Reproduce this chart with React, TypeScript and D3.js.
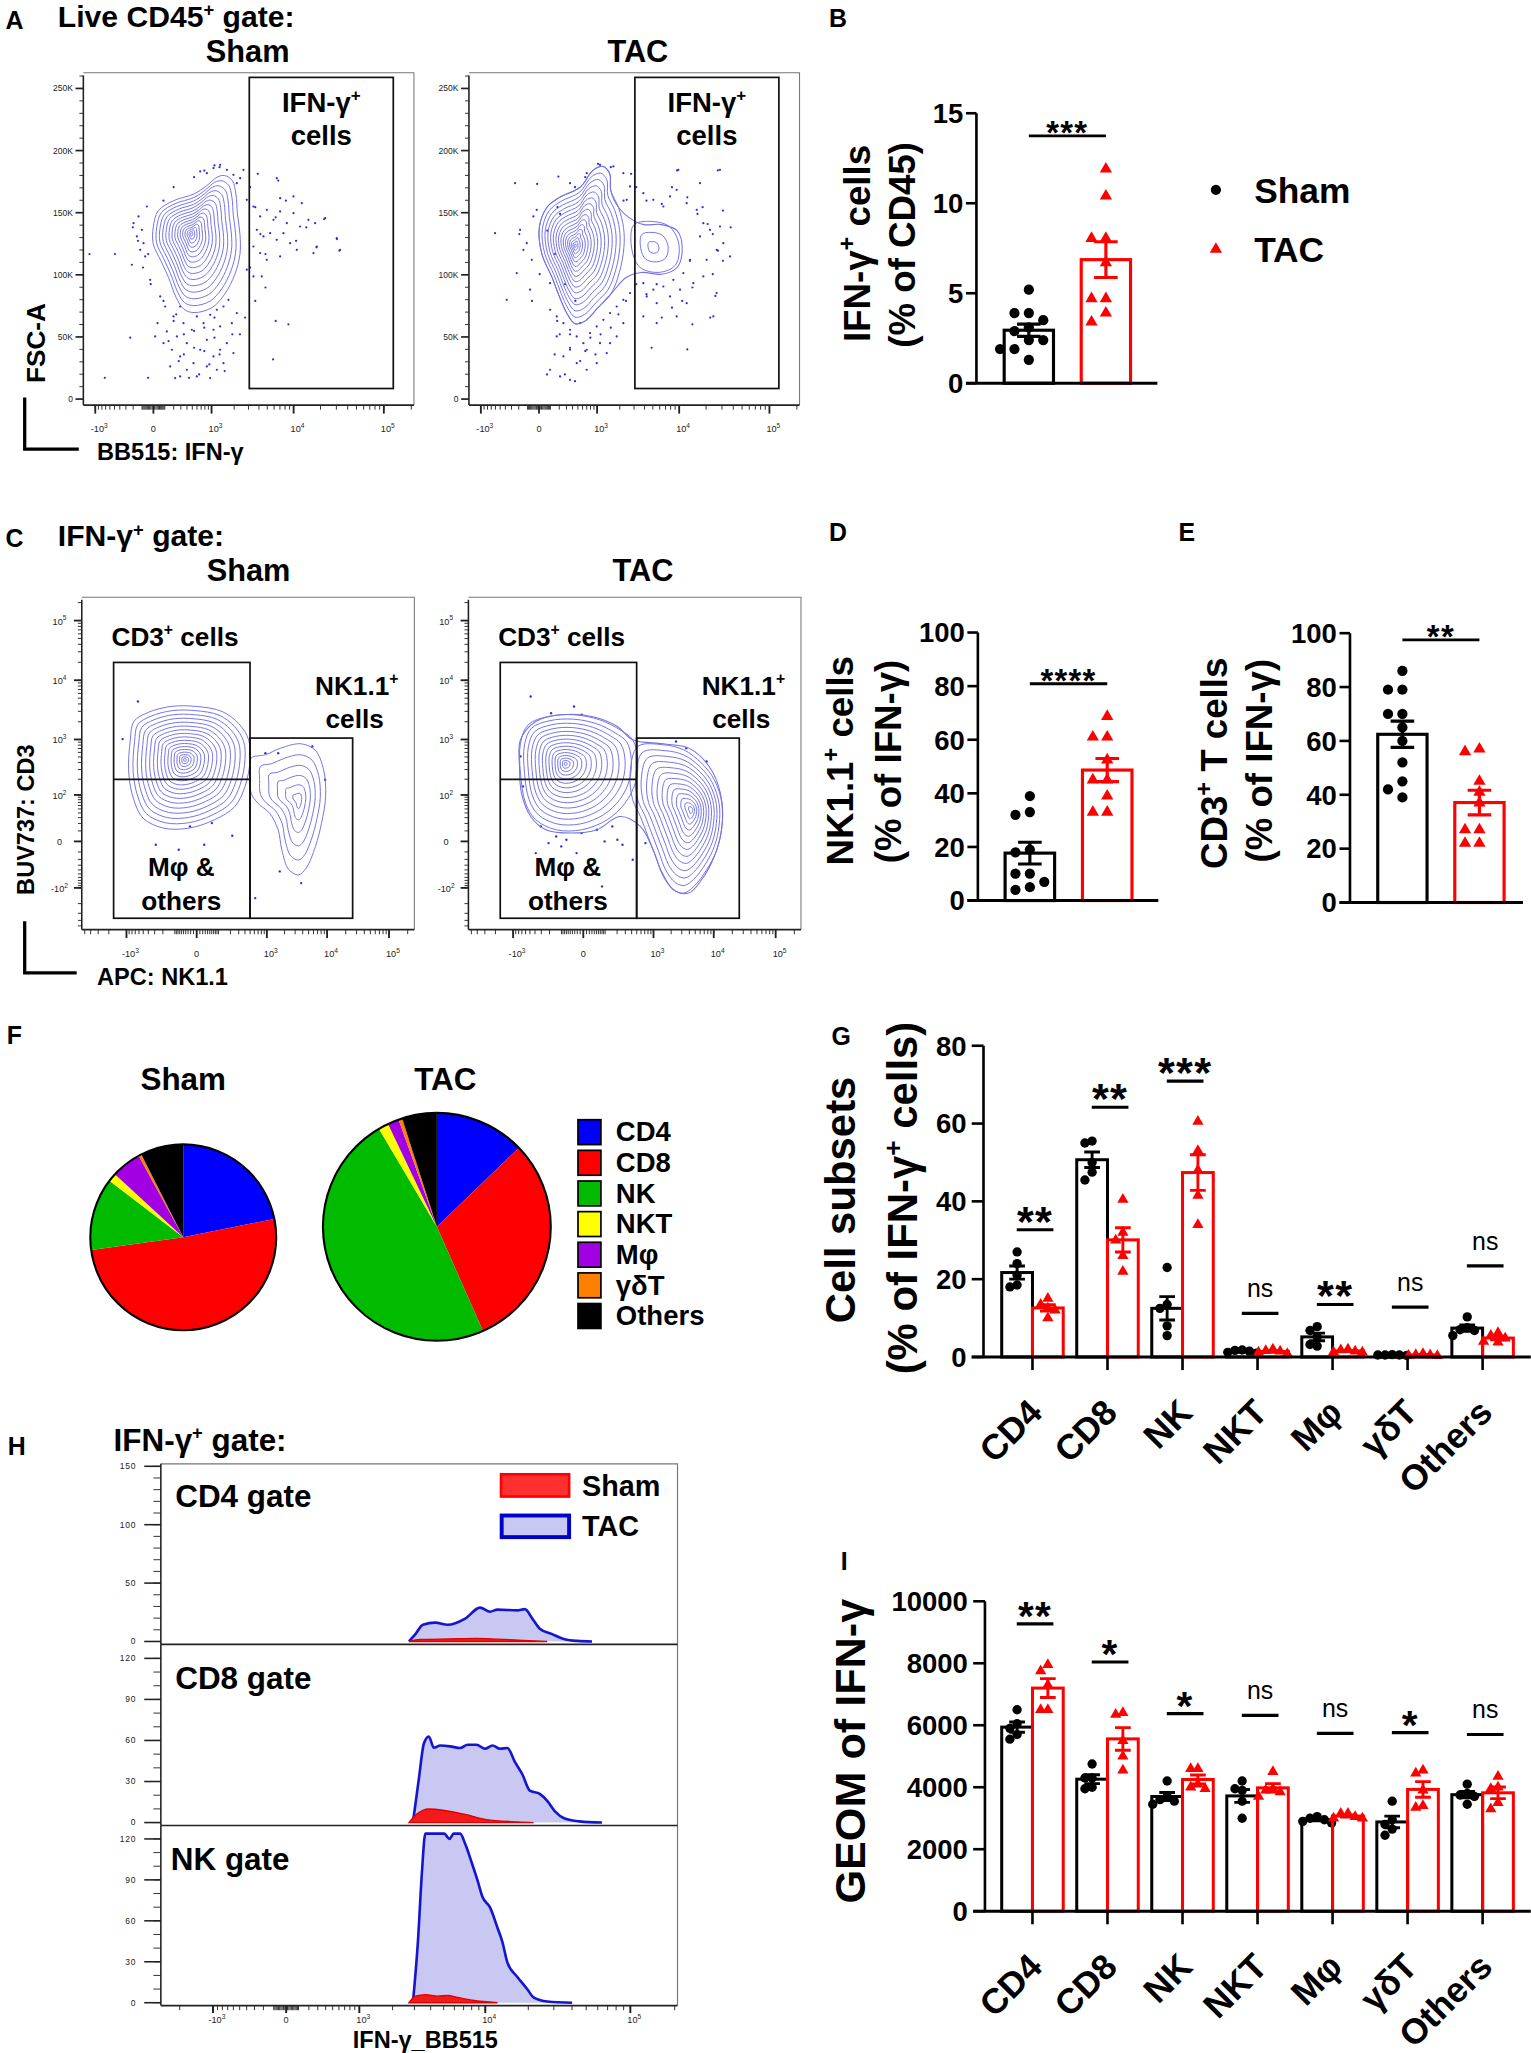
import React from "react";
import * as d3 from "d3";

type Pt = [number, number];

const FONT = "'Liberation Sans', Arial, Helvetica, sans-serif";
const RED = "#ff0000";
const CONTOUR = "#7272e6";
const DOTC = "#2c2cd8";

// ---------- A : FSC-A (thousands) vs BB515 IFN-γ (display channel 0-1024)
const aShamOuter: Pt[] = [
  [216.5, 138.2], [232.3, 151.7], [279.7, 159.7], [343, 165.1], [382.4, 171.8], [414, 178.6], [437.7, 179.9],
  [461.4, 175.9], [472.5, 165.1], [477.2, 149], [485.1, 132.8], [485.1, 116.7], [469.3, 100.5], [437.7, 84.4],
  [398.2, 73.6], [343, 69.6], [311.3, 72.3], [287.6, 81.7], [263.9, 97.8], [240.2, 111.3], [216.5, 124.8],
];
const aShamPeak: Pt = [335, 132.8];
const aTacOuter: Pt[] = [
  [218.1, 138.2], [241.8, 154.4], [281.3, 162.4], [344.5, 170.5], [384, 184], [415.6, 187.2], [436.1, 181.3],
  [439.3, 167.8], [463, 154.4], [510.4, 143.6], [542, 140.4], [597.3, 140.4], [644.7, 135.5], [660.5, 122],
  [644.7, 105.9], [597.3, 100.5], [534.1, 101.9], [486.7, 97.8], [439.3, 84.4], [399.8, 73.6], [360.3, 62.9],
  [328.7, 60.7], [305, 68.2], [281.3, 81.7], [257.6, 97.8], [226, 116.7],
];
const aTacMain: Pt[] = [
  [218.1, 138.2], [241.8, 154.4], [281.3, 162.4], [344.5, 170.5], [384, 184], [415.6, 187.2], [436.1, 181.3],
  [439.3, 167.8], [463, 154.4], [478.8, 138], [480, 122], [466, 102], [439.3, 84.4], [399.8, 73.6], [360.3, 62.9],
  [328.7, 60.7], [305, 68.2], [281.3, 81.7], [257.6, 97.8], [226, 116.7],
];
const aTacPeak: Pt = [328.7, 123.4];
const aTacLobe: Pt[] = [[510, 140], [560, 143], [620, 139], [650, 125], [640, 108], [590, 102], [530, 106], [505, 120]];
const aTacLobePeak: Pt = [570, 122];
const aGateX = [514, 960];
const aGateY = [8.5, 258.9];
const aShamDots: Pt[] = [
  [279.7, 62.9], [311.3, 52.1], [342.9, 41.3], [374.5, 57.5], [406.1, 49.4], [295.5, 30.6], [358.7, 19.8], [390.3, 27.9],
  [327.1, 17.1], [421.9, 35.9], [437.7, 22.5], [263.9, 46.7], [311.3, 35.9], [374.5, 38.6], [406.1, 65.6], [287.6, 68.2],
  [461.4, 52.1], [342.9, 54.8], [153.3, 138.2], [169.1, 127.4], [184.9, 105.9], [200.7, 116.7], [208.6, 92.5], [248.1, 79],
  [66.4, 17.1], [19, 116.7], [98, 116.7], [145.4, 49.4], [200.7, 17.1], [516.7, 170.5], [532.5, 154.4], [548.3, 132.8],
  [564.1, 116.7], [595.7, 146.3], [627.3, 159.7], [658.9, 127.4], [690.5, 138.2], [722.1, 122.1], [745.8, 144.9],
  [603.6, 175.9], [540.4, 181.3], [516.7, 105.9], [564.1, 89.8], [595.7, 62.9], [635.2, 60.2], [587.8, 31.9],
  [785.3, 128.8], [793.2, 119.4], [532.5, 79], [500.9, 65.6], [485.1, 52.1], [374.5, 183.9], [406.1, 188],
  [421.9, 186.6], [343, 178.6], [279.7, 170.5], [248.1, 159.7],
  [238, 82.6], [253.5, 74.5], [229.7, 61.1], [258.6, 54.4], [279.3, 66.5], [299.9, 74.5], [310.2, 61.1], [289.6, 50.4],
  [274.1, 39.7], [299.9, 34.3], [320.5, 45], [336, 55.8], [351.5, 66.5], [372.1, 61.1], [392.8, 67.8], [413.4, 71.9],
  [434.1, 74.5], [449.5, 79.9], [403.1, 55.8], [382.5, 47.7], [361.8, 39.7], [341.2, 28.9], [320.5, 23.6], [299.9, 18.2],
  [351.5, 18.2], [382.5, 26.3], [403.1, 34.3], [423.7, 39.7], [444.4, 45], [465, 37], [434.1, 28.9], [413.4, 23.6],
  [392.8, 16.9], [268.9, 26.3], [284.4, 16.9], [248.3, 45], [222.5, 50.4], [459.9, 61.1], [475.3, 69.2], [423.7, 58.5],
  [506.3, 160.4], [526.9, 155], [547.6, 147], [568.2, 152.3], [588.9, 144.3], [609.5, 151], [630.1, 141.6], [650.8, 149.6],
  [671.4, 138.9], [697.2, 144.3], [537.3, 136.2], [557.9, 130.9], [578.5, 133.5], [599.2, 128.2], [619.8, 133.5],
  [640.5, 125.5], [661.1, 120.1], [526.9, 122.8], [547.6, 117.5], [568.2, 112.1], [609.5, 114.8], [506.3, 104.1],
  [526.9, 98.7], [552.7, 98.7], [599.2, 177.8], [609.5, 161.7], [650.8, 163.1], [676.6, 157.7], [717.9, 141.6],
  [723, 122.8], [748.8, 145.6], [784.9, 129.5], [795.3, 120.1], [712.7, 117.5], [155.4, 141.6], [170.9, 147],
  [181.2, 136.2], [186.4, 125.5], [191.5, 114.8], [196.7, 155], [176.1, 120.1], [150.3, 108.1], [207, 96], [165.7, 130.9],
  [361.8, 183.2], [382.5, 181.8], [403.1, 185.9], [423.7, 188.5], [444.4, 184.5], [465, 180.5], [485.7, 177.8],
  [496, 184.5], [475.3, 173.8],
];
const aTacDots: Pt[] = [
  [281.3, 52.1], [312.9, 41.3], [344.5, 30.6], [376.1, 49.4], [265.5, 35.9], [297.1, 19.8], [241.8, 19.8], [328.7, 14.4],
  [360.3, 38.6], [407.7, 52.1], [439.3, 57.5], [463, 68.2], [273.4, 62.9], [391.9, 35.9], [312.9, 52.1], [155.9, 132.8],
  [195.4, 79], [219.1, 100.5], [242.8, 135.5], [266.5, 116.7], [282.3, 149], [298.1, 92.5], [329.7, 79], [211.2, 173.2],
  [274.4, 154.4], [518.3, 170.5], [549.9, 159.7], [597.3, 157.1], [628.9, 170.5], [676.3, 162.4], [707.9, 149],
  [739.5, 140.9], [755.3, 132.8], [771.1, 119.4], [786.9, 111.3], [810.6, 138.2], [723.7, 154.4], [692.1, 89.8],
  [660.5, 79], [628.9, 73.6], [597.3, 65.6], [565.7, 41.3], [676.3, 40], [747.4, 65.6], [763.2, 83], [692.1, 60.2],
  [549.9, 84.4], [518.3, 92.5], [486.7, 79], [771.1, 184], [644.7, 184], [786.9, 151.7], [755.3, 100.5], [684.2, 111.3],
  [581.5, 92.5], [360.3, 178.6], [399.8, 189.3], [439.3, 186.6], [328.7, 170.5], [502.5, 181.3], [478.8, 159.7],
  [251.3, 71.9], [271.9, 66.5], [292.6, 61.1], [313.2, 55.8], [333.8, 50.4], [354.5, 45], [375.1, 53.1], [395.8, 58.5],
  [416.4, 63.8], [437, 69.2], [457.7, 74.5], [478.3, 79.9], [499, 85.3], [313.2, 39.7], [292.6, 34.3], [333.8, 28.9],
  [271.9, 50.4], [251.3, 23.6], [282.2, 18.2], [313.2, 15.5], [364.8, 23.6], [395.8, 28.9], [426.7, 37], [457.7, 50.4],
  [478.3, 61.1], [437, 45], [406.1, 45], [344.2, 61.1], [364.8, 39.7], [251.3, 93.3], [540.2, 165.7], [571.2, 160.4],
  [602.2, 155], [622.8, 163.1], [643.4, 168.4], [674.4, 157.7], [705.4, 152.3], [726, 141.6], [746.6, 136.2],
  [777.6, 138.9], [787.9, 125.5], [808.6, 114.8], [767.3, 120.1], [736.3, 112.1], [715.7, 130.9], [684.7, 112.1],
  [664.1, 101.4], [633.1, 96], [602.2, 90.6], [571.2, 88], [540.2, 93.3], [550.6, 82.6], [581.5, 77.2], [622.8, 82.6],
  [653.8, 88], [695, 93.3], [726, 98.7], [674.4, 77.2], [643.4, 66.5], [581.5, 61.1], [540.2, 66.5], [767.3, 85.3],
  [757, 66.5], [715.7, 173.8], [777.6, 184.5], [648.6, 184.5], [142.9, 173.8], [81, 133.5], [158.4, 136.2], [179, 125.5],
  [194.5, 112.1], [148.1, 101.4], [117.1, 79.9], [189.4, 88], [210, 152.3], [199.7, 147], [168.7, 120.1], [277.1, 179.1],
  [313.2, 173.8], [364.8, 181.8], [406.1, 188.5], [447.4, 187.2], [478.3, 181.8], [499, 171.1], [488.6, 160.4],
];

// ---------- C : CD3 vs NK1.1 (both display channel 0-1024)
const cShamMain: Pt[] = [
  [149.4, 584.7], [160.3, 641.1], [204.3, 668.9], [275, 687.4], [353.5, 687.4], [432, 671.9], [483.8, 634],
  [513.7, 584.7], [518.4, 523.1], [502.7, 441], [471.3, 379.4], [408.5, 338.3], [330, 312.7], [251.4, 312.7],
  [188.6, 343.5], [160.3, 399.9], [144.6, 482],
];
const cShamMainPeak: Pt = [317.4, 523.1];
const cShamNk: Pt[] = [
  [521.5, 528.2], [565.5, 538.5], [612.6, 559], [675.4, 572.4], [719.4, 551.8], [744.5, 492.3], [750.8, 410.2],
  [738.2, 328.1], [719.4, 256.2], [691.1, 189.5], [667.6, 169], [637.7, 184.4], [615.8, 245.9], [604.8, 307.5],
  [578.1, 358.9], [541.9, 389.7], [521.5, 420.4], [518.4, 476.9],
];
const cShamNkPeak: Pt = [667.6, 399.9];
const cShamDots: Pt[] = [
  [172.9, 702.7], [125.8, 586.8], [227.9, 261.3], [298.5, 245.9], [377, 261.3], [463.4, 289.1], [609.5, 179.2],
  [675.4, 143.3], [534.1, 97.1], [565.5, 543.6], [604.8, 543.6], [710, 564.2], [749.3, 461.5], [333.1, 317.8], [400.6, 328.1],
];
const cTacMain: Pt[] = [
  [160.3, 574.4], [183.9, 630.9], [246.7, 656.6], [325.2, 661.7], [403.7, 646.3], [466.5, 615.5], [505.8, 584.7],
  [521.5, 523.1], [513.6, 451.3], [482.2, 389.7], [427.3, 338.3], [348.7, 307.5], [270.2, 307.5], [207.4, 338.3],
  [176, 389.7], [160.3, 482],
];
const cTacMainPeak: Pt = [298.5, 510.8];
const cTacNk: Pt[] = [
  [521.5, 564.2], [600, 569.3], [662.8, 553.9], [717.8, 512.8], [757.1, 461.5], [780.6, 389.7], [780.6, 317.8],
  [764.9, 246], [733.5, 184.4], [694.2, 133], [662.8, 112.5], [631.4, 122.8], [600, 163.8], [576.5, 225.4],
  [552.9, 287], [529.4, 348.6], [505.8, 400], [497.9, 482],
];
const cTacNkPeak: Pt = [686.3, 369.1];
const cTacEnvelope: Pt[] = [
  [160.3, 584.7], [207.4, 641.1], [285.9, 661.7], [380.1, 656.6], [458.7, 625.7], [505.8, 584.7], [600, 572.4],
  [678.5, 559], [741.3, 502.6], [775.9, 420.4], [780.6, 317.8], [757.1, 225.4], [717.8, 153.5], [678.5, 112.5],
  [631.4, 122.8], [592.1, 184.4], [568.6, 245.9], [529.4, 317.8], [466.5, 348.6], [395.8, 307.5], [317.2, 297.3],
  [238.7, 307.5], [191.6, 348.6], [163.4, 420.4], [157.2, 502.6],
];
const cTacDots: Pt[] = [
  [191.7, 718.1], [254.5, 666.8], [325.2, 687.3], [348.7, 661.7], [223.1, 317.8], [270.2, 287], [301.6, 276.8],
  [348.7, 297.3], [395.8, 307.5], [443, 317.8], [458.7, 276.8], [285.9, 256.2], [333, 235.7], [246.7, 266.5],
  [419.4, 271.6], [474.4, 261.3], [505.8, 215.2], [411.6, 133], [207.4, 235.7], [639.3, 579.6], [670.7, 559],
  [733.5, 518], [545.1, 266.5], [160.3, 533.4], [168.2, 441],
];
const cCd3GateX = [98, 518];
const cGateY = [35, 823];
const cCd3Split = 463;
const cNkGateX = [518, 834];
const cNkGateTop = 590;

// ---------- B, D, E : % values per mouse
const bSham = [5.2, 3.9, 3.9, 3.5, 3.1, 2.9, 2.4, 2.4, 1.9, 1.9, 1.3];
const bTac = [11.9, 10.4, 8.05, 8.05, 6.7, 4.7, 4.7, 3.9, 3.4];
const dSham = [39, 33, 32, 19, 18, 10, 10, 7, 5, 4];
const dTac = [68.7, 61, 61, 52.5, 45, 45, 39, 33, 33];
const eSham = [86, 79, 79, 70, 70, 65, 60, 52, 45, 42, 39];
const eTac = [57, 56, 45, 41, 37, 27, 27, 22, 22];

// ---------- F, G, I : cell subsets
const subsets = ["CD4", "CD8", "NK", "NKT", "Mφ", "γδT", "Others"];
const subsetColors = ["#0000ff", "#ff0000", "#00bb00", "#ffff00", "#a200e2", "#ff8000", "#000000"];
const gSham = [
  [27, 24, 21, 18.5, 18], [55.5, 55, 50, 47.5, 45.5], [23, 13.5, 12.5, 8, 5.5], [1.8, 1.5, 1.2, 1.0, 1.7],
  [7.8, 6.8, 5.2, 3.2, 2.8], [0.6, 0.5, 0.5, 0.4, 0.5], [10.3, 7.5, 7, 6.8, 5.5],
];
const gTac = [
  [15, 13.5, 12.5, 12, 10], [40.5, 32, 30, 26, 22], [60.5, 53, 48, 41.5, 34], [1.6, 2.0, 1.2, 0.8, 1.5],
  [2.0, 1.8, 1.5, 1.3, 1.2], [0.8, 0.5, 0.4, 0.3, 0.6], [6.2, 5.5, 4.8, 4.0, 3.8],
];
const gSigAt = [32.7, 64.2, 70.9, 11.2, 13.5, 12.8, 23.4];
const gSigText = ["**", "**", "***", "ns", "**", "ns", "ns"];
const iSham = [
  [6500, 6050, 5900, 5700, 5550], [4750, 4300, 4300, 4000, 3950], [4200, 3700, 3600, 3550, 3450],
  [4200, 3950, 3900, 3550, 3000], [3050, 3000, 2950, 2900, 2850], [3550, 2950, 2800, 2650, 2450],
  [4100, 3800, 3750, 3700, 3450],
];
const iTac = [
  [7750, 7950, 7300, 6500, 6500], [6400, 6350, 5500, 5000, 4550], [4600, 4600, 4100, 4000, 3950],
  [4500, 3950, 3900, 3850, 3700], [3150, 3150, 3050, 3000, 3000], [4550, 4450, 3900, 3400, 3350],
  [4350, 4000, 3950, 3500, 3300],
];
const iSigAt = [9270, 8040, 6375, 6320, 5740, 5760, 5700];
const iSigText = ["**", "*", "*", "ns", "ns", "*", "ns"];

// ---------- H : histograms [IFN-γ intensity, count]
const cd4Tac: Pt[] = [
  [2717, 0], [3055, 6.3], [3489, 14.3], [4337, 16.1], [5360, 14.3], [7181, 19.6], [9180, 29], [10810, 25.5],
  [12197, 27.3], [16800, 26.6], [18920, 27.7], [21340, 19.6], [24020, 10.9], [29240, 6.3], [35620, 2], [43350, 0.5], [54800, 0],
];
const cd4Sham: Pt[] = [[2717, 0], [3300, 1.8], [5360, 2.2], [8700, 2.6], [12197, 2.0], [18500, 1.0], [27000, 0]];
const cd8Tac: Pt[] = [
  [2920, 0], [3252, 32.3], [3553, 57.8], [3875, 62.9], [4227, 54.7], [4723, 56.3], [5592, 55.7], [6609, 54.5],
  [7487, 56.9], [8664, 56.9], [9963, 53.9], [11250, 56.3], [12700, 53.9], [14320, 54.5], [16140, 44.3], [18190, 35.3],
  [20490, 23.4], [24020, 21], [27030, 15.9], [30440, 8.4], [35620, 3], [45030, 0.9], [64060, 0],
];
const cd8Sham: Pt[] = [[2718, 0], [3055, 5.4], [3489, 9], [3875, 9.9], [7181, 6], [9963, 2.4], [16800, 0.5], [21760, 0]];
const nkTac: Pt[] = [
  [2920, 0], [3193, 44.4], [3430, 95.3], [3643, 123.9], [4523, 123.9], [5060, 123.9], [5507, 120], [5935, 123.9],
  [6609, 123.9], [7181, 116.4], [7990, 102.9], [8820, 89.4], [9565, 77.4], [10810, 69.9], [12197, 54.9], [13210, 44.4],
  [14320, 29.4], [16800, 18.9], [19700, 9.9], [21760, 3.9], [27030, 0.9], [40060, 0],
];
const nkSham: Pt[] = [[2718, 0], [3055, 4.8], [3643, 6], [4523, 4.8], [5360, 5.4], [6340, 3.9], [8120, 1.8], [12197, 0]];

// ---------- helpers
const circleBig = d3.symbol(d3.symbolCircle, 48)() as string;
const triBig = d3.symbol(d3.symbolTriangle, 38)() as string;
const circleSmall = d3.symbol(d3.symbolCircle, 40)() as string;
const triSmall = d3.symbol(d3.symbolTriangle, 32)() as string;

const ringPaths = (outer: Pt[], peak: Pt, levels: number, sx: any, sy: any, power = 1.35) => {
  const line = d3.line().curve(d3.curveCatmullRomClosed.alpha(0.5));
  const pts = outer.map(([a, b]) => [sx(a), sy(b)]);
  const c = [sx(peak[0]), sy(peak[1])];
  return d3.range(levels).map((k) => {
    const f = Math.pow(1 - k / levels, power);
    return line(pts.map((p) => [c[0] + (p[0] - c[0]) * f, c[1] + (p[1] - c[1]) * f]) as any) as string;
  });
};

const logTicks = (lo: number, hi: number) => {
  const out: number[] = [0];
  for (let d = 1; d <= 5; d++)
    for (let j = 1; j <= 9; j++) {
      const v = j * Math.pow(10, d);
      if (v <= hi) out.push(v);
      if (-v >= lo) out.push(-v);
    }
  return out;
};

const swarm = (vals: number[], y: (v: number) => number, step: number, minDist: number) => {
  const placed: { o: number; py: number }[] = [];
  const offs = vals.map(() => 0);
  const order = vals.map((_, i) => i).sort((a, b) => vals[b] - vals[a]);
  for (const i of order) {
    const py = y(vals[i]);
    for (let k = 0; k < 30; k++) {
      const o = k === 0 ? 0 : (k % 2 ? -1 : 1) * Math.ceil(k / 2) * step;
      if (!placed.some((p) => Math.abs(p.o - o) < step * 0.9 && Math.abs(p.py - py) < minDist)) {
        offs[i] = o;
        placed.push({ o, py });
        break;
      }
    }
  }
  return offs;
};

const Pow = ({ x, y, base, exp, fs }: any) => (
  <text x={x} y={y} fontSize={fs} textAnchor="middle" fill="#222">
    {base}
    {exp ? <tspan dy={-fs * 0.45} fontSize={fs * 0.72}>{exp}</tspan> : null}
  </text>
);

const Sup = ({ s, fs, rise, after }: any) => (
  <>
    <tspan dy={-rise} fontSize={fs}>{s}</tspan>
    <tspan dy={rise}>{after}</tspan>
  </>
);

// ---------- flow plots
function FlowA({ x0, outer, peak, levels, envelope, lobe, lobePeak, dots }: any) {
  const x1 = x0 + 252.5, y0 = 55.6, y1 = 309.4;
  const sx = d3.scaleLinear().domain([0, 1024]).range([x0, x1]);
  const sy = d3.scaleLinear().domain([-4.85, 262.6]).range([y1, y0]);
  const fl = d3.scaleSymlog().constant(300).domain([-1456, 214080]).range([0, 1024]);
  const line = d3.line().curve(d3.curveCatmullRomClosed.alpha(0.5));
  const rings = ringPaths(outer, peak, levels, sx, sy);
  const lobeRings = lobe ? ringPaths(lobe, lobePeak, 3, sx, sy) : [];
  const major = [[-1000, "-10", "3"], [0, "0", ""], [1000, "10", "3"], [10000, "10", "4"], [100000, "10", "5"]];
  return (
    <g>
      <path d={`M${x0},${y0}H${x1}V${y1}`} fill="none" stroke="#777" strokeWidth={0.8} />
      {dots.map(([a, b]: Pt, i: number) => (
        <circle key={i} cx={sx(a)} cy={sy(b)} r={0.85} fill={DOTC} />
      ))}
      {envelope ? (
        <path d={line(envelope.map(([a, b]: Pt) => [sx(a), sy(b)])) as string} fill="none" stroke={CONTOUR} strokeWidth={0.8} />
      ) : null}
      {rings.map((d, i) => (
        <path key={i} d={d} fill="none" stroke={CONTOUR} strokeWidth={0.75} />
      ))}
      {lobeRings.map((d, i) => (
        <path key={"l" + i} d={d} fill="none" stroke={CONTOUR} strokeWidth={0.75} />
      ))}
      <rect x={sx(aGateX[0])} y={sy(aGateY[1])} width={sx(aGateX[1]) - sx(aGateX[0])} height={sy(aGateY[0]) - sy(aGateY[1])}
        fill="none" stroke="#111" strokeWidth={1.3} />
      <text x={(sx(aGateX[0]) + sx(aGateX[1])) / 2} y={85.5} fontSize={21} fontWeight="bold" textAnchor="middle">
        IFN-γ<Sup s="+" fs={13} rise={8} after="" />
      </text>
      <text x={(sx(aGateX[0]) + sx(aGateX[1])) / 2} y={111} fontSize={21} fontWeight="bold" textAnchor="middle">cells</text>
      {/* y axis */}
      <line x1={x0} x2={x0} y1={y0 + 2} y2={y1} stroke="#222" strokeWidth={1.2} />
      {d3.range(0, 261, 10).map((v) => (
        <line key={v} x1={x0 - (v % 50 === 0 ? 6 : 3)} x2={x0} y1={sy(v)} y2={sy(v)} stroke="#222" strokeWidth={v % 50 === 0 ? 1.3 : 0.7} />
      ))}
      {d3.range(0, 251, 50).map((v) => (
        <text key={v} x={x0 - 8} y={sy(v) + 2.3} fontSize={6.5} textAnchor="end" fill="#222">{v === 0 ? "0" : v + "K"}</text>
      ))}
      {/* x axis */}
      <line x1={x0} x2={x1} y1={y1} y2={y1} stroke="#222" strokeWidth={1.2} />
      {logTicks(-1456, 214080).map((v, i) => (
        <line key={i} x1={sx(fl(v))} x2={sx(fl(v))} y1={y1} y2={y1 + 3.5} stroke="#222" strokeWidth={0.7} />
      ))}
      {major.map(([v, b, e]: any) => (
        <g key={v}>
          <line x1={sx(fl(v))} x2={sx(fl(v))} y1={y1} y2={y1 + 6.5} stroke="#222" strokeWidth={1.4} />
          <Pow x={sx(fl(v)) + (e ? 3 : 0)} y={330} base={b} exp={e} fs={7} />
        </g>
      ))}
    </g>
  );
}

function FlowC({ x0, main, mainPeak, mainLevels, nk, nkPeak, nkLevels, envelope, dots }: any) {
  const x1 = x0 + 254, y0 = 456.1, y1 = 710;
  const sx = d3.scaleLinear().domain([0, 1024]).range([x0, x1]);
  const sy = d3.scaleLinear().domain([0, 1024]).range([y1, y0]);
  const fx = d3.scaleSymlog().constant(80).domain([-5585, 255900]).range([0, 1024]);
  const fy = d3.scaleSymlog().constant(20).domain([-580, 246600]).range([0, 1024]);
  const line = d3.line().curve(d3.curveCatmullRomClosed.alpha(0.5));
  const mainRings = ringPaths(main, mainPeak, mainLevels, sx, sy);
  const nkRings = ringPaths(nk, nkPeak, nkLevels, sx, sy, 1.2);
  const xMajor = [[-1000, "-10", "3"], [0, "0", ""], [1000, "10", "3"], [10000, "10", "4"], [100000, "10", "5"]];
  const yMajor = [[-100, "-10", "2"], [0, "0", ""], [100, "10", "2"], [1000, "10", "3"], [10000, "10", "4"], [100000, "10", "5"]];
  return (
    <g>
      <path d={`M${x0},${y0}H${x1}V${y1}`} fill="none" stroke="#777" strokeWidth={0.8} />
      {dots.map(([a, b]: Pt, i: number) => (
        <circle key={i} cx={sx(a)} cy={sy(b)} r={0.9} fill={DOTC} />
      ))}
      {envelope ? (
        <path d={line(envelope.map(([a, b]: Pt) => [sx(a), sy(b)])) as string} fill="none" stroke={CONTOUR} strokeWidth={0.8} />
      ) : null}
      {mainRings.map((d, i) => (
        <path key={i} d={d} fill="none" stroke={CONTOUR} strokeWidth={0.75} />
      ))}
      {nkRings.map((d, i) => (
        <path key={"n" + i} d={d} fill="none" stroke={CONTOUR} strokeWidth={0.75} />
      ))}
      {/* gates */}
      <rect x={sx(cCd3GateX[0])} y={sy(cGateY[1])} width={sx(cCd3GateX[1]) - sx(cCd3GateX[0])} height={sy(cGateY[0]) - sy(cGateY[1])}
        fill="none" stroke="#111" strokeWidth={1.3} />
      <line x1={sx(cCd3GateX[0])} x2={sx(cCd3GateX[1])} y1={sy(cCd3Split)} y2={sy(cCd3Split)} stroke="#111" strokeWidth={1.3} />
      <rect x={sx(cNkGateX[0])} y={sy(cNkGateTop)} width={sx(cNkGateX[1]) - sx(cNkGateX[0])} height={sy(cGateY[0]) - sy(cNkGateTop)}
        fill="none" stroke="#111" strokeWidth={1.3} />
      <text x={x0 + 22.7} y={493.2} fontSize={20} fontWeight="bold">
        CD3<Sup s="+" fs={12} rise={8} after=" cells" />
      </text>
      <text x={x0 + 210} y={530.6} fontSize={20} fontWeight="bold" textAnchor="middle">
        NK1.1<Sup s="+" fs={12} rise={8} after="" />
      </text>
      <text x={x0 + 208.4} y={556.1} fontSize={20} fontWeight="bold" textAnchor="middle">cells</text>
      <text x={x0 + 76} y={669.4} fontSize={20} fontWeight="bold" textAnchor="middle">Mφ &amp;</text>
      <text x={x0 + 76} y={695.3} fontSize={20} fontWeight="bold" textAnchor="middle">others</text>
      {/* y axis */}
      <line x1={x0} x2={x0} y1={y0 + 2} y2={y1} stroke="#222" strokeWidth={1.2} />
      {logTicks(-580, 246600).map((v, i) => (
        <line key={i} x1={x0 - 3} x2={x0} y1={sy(fy(v))} y2={sy(fy(v))} stroke="#222" strokeWidth={0.7} />
      ))}
      {yMajor.map(([v, b, e]: any) => (
        <g key={v}>
          <line x1={x0 - 6} x2={x0} y1={sy(fy(v))} y2={sy(fy(v))} stroke="#222" strokeWidth={1.4} />
          <Pow x={x0 - 17} y={sy(fy(v)) + 3} base={b} exp={e} fs={7} />
        </g>
      ))}
      {/* x axis */}
      <line x1={x0} x2={x1} y1={y1} y2={y1} stroke="#222" strokeWidth={1.2} />
      {logTicks(-5585, 255900).map((v, i) => (
        <line key={i} x1={sx(fx(v))} x2={sx(fx(v))} y1={y1} y2={y1 + 3.5} stroke="#222" strokeWidth={0.7} />
      ))}
      {xMajor.map(([v, b, e]: any) => (
        <g key={v}>
          <line x1={sx(fx(v))} x2={sx(fx(v))} y1={y1} y2={y1 + 6.5} stroke="#222" strokeWidth={1.4} />
          <Pow x={sx(fx(v)) + (e ? 3 : 0)} y={731} base={b} exp={e} fs={7} />
        </g>
      ))}
    </g>
  );
}

// ---------- two-group dot/bar chart (B, D, E)
function PairChart({ sham, tac, band, axisX, xEnd, y0, y1, max, ticks, sigAt, stars }: any) {
  const y = d3.scaleLinear().domain([0, max]).range([y0, y1]);
  const x = d3.scaleBand<string>().domain(["Sham", "TAC"]).range(band).paddingInner(0.36);
  const bw = x.bandwidth();
  const groups = [
    { key: "Sham", vals: sham, color: "#000", sym: circleBig },
    { key: "TAC", vals: tac, color: RED, sym: triBig },
  ];
  const cS = (x("Sham") as number) + bw / 2;
  const cT = (x("TAC") as number) + bw / 2;
  return (
    <g>
      {groups.map((g) => {
        const m = d3.mean(g.vals as number[]) as number;
        const se = (d3.deviation(g.vals as number[]) as number) / Math.sqrt(g.vals.length);
        const cx = (x(g.key) as number) + bw / 2;
        const offs = swarm(g.vals, y, 11, 8);
        return (
          <g key={g.key}>
            <rect x={x(g.key)} y={y(m)} width={bw} height={y(0) - y(m)} fill="none" stroke={g.color} strokeWidth={2.4} />
            {g.vals.map((v: number, i: number) => (
              <path key={i} d={g.sym} transform={`translate(${cx + offs[i]},${y(v)})`} fill={g.color} />
            ))}
            <path d={`M${cx},${y(m - se)}V${y(m + se)}M${cx - 9},${y(m + se)}H${cx + 9}M${cx - 9},${y(m - se)}H${cx + 9}`}
              stroke={g.color} strokeWidth={2.4} fill="none" />
          </g>
        );
      })}
      <line x1={axisX} x2={axisX} y1={y(0)} y2={y(max)} stroke="#000" strokeWidth={2} />
      <line x1={axisX - 8} x2={xEnd} y1={y(0)} y2={y(0)} stroke="#000" strokeWidth={2.2} />
      {ticks.map((t: number) => (
        <g key={t}>
          <line x1={axisX - 8} x2={axisX} y1={y(t)} y2={y(t)} stroke="#000" strokeWidth={2} />
          <text x={axisX - 10} y={y(t) + 7.5} fontSize={21} fontWeight="bold" textAnchor="end">{t}</text>
        </g>
      ))}
      <line x1={cS} x2={cT} y1={y(sigAt)} y2={y(sigAt)} stroke="#000" strokeWidth={2.2} />
      <text x={(cS + cT) / 2} y={y(sigAt) + 6} fontSize={25} fontWeight="bold" textAnchor="middle" letterSpacing={1}>{stars}</text>
    </g>
  );
}

// ---------- grouped subset chart (G, I)
function GroupChart({ sham, tac, axisX, y0, y1, max, ticks, sigAt, sigText, starFs }: any) {
  const y = d3.scaleLinear().domain([0, max]).range([y0, y1]);
  const xg = d3.scaleBand<string>().domain(subsets).range([759.75, 1160.85]).paddingInner(0.18).paddingOuter(0.09);
  const xi = d3.scaleBand<string>().domain(["Sham", "TAC"]).range([0, xg.bandwidth()]);
  const bw = xi.bandwidth();
  return (
    <g>
      {subsets.map((s, gi) => {
        const gx = xg(s) as number;
        const center = gx + xg.bandwidth() / 2;
        const sets = [
          { key: "Sham", vals: sham[gi], color: "#000", sym: circleSmall },
          { key: "TAC", vals: tac[gi], color: RED, sym: triSmall },
        ];
        const sy = y(sigAt[gi]);
        const isNs = sigText[gi] === "ns";
        return (
          <g key={s}>
            {sets.map((g) => {
              const m = d3.mean(g.vals as number[]) as number;
              const se = (d3.deviation(g.vals as number[]) as number) / Math.sqrt(g.vals.length);
              const bx = gx + (xi(g.key) as number);
              const cx = bx + bw / 2;
              const offs = swarm(g.vals, y, 5.5, 7);
              return (
                <g key={g.key}>
                  <rect x={bx} y={y(m)} width={bw} height={y(0) - y(m)} fill="none" stroke={g.color} strokeWidth={2.3} />
                  {g.vals.map((v: number, i: number) => (
                    <path key={i} d={g.sym} transform={`translate(${cx + offs[i]},${y(v)})`} fill={g.color} />
                  ))}
                  <path d={`M${cx},${y(m - se)}V${y(m + se)}M${cx - 6},${y(m + se)}H${cx + 6}M${cx - 6},${y(m - se)}H${cx + 6}`}
                    stroke={g.color} strokeWidth={2.2} fill="none" />
                </g>
              );
            })}
            <line x1={center} x2={center} y1={y(0)} y2={y(0) + 10} stroke="#000" strokeWidth={2} />
            <line x1={center - 12} x2={center + 16} y1={sy} y2={sy} stroke="#000" strokeWidth={2.4} />
            {isNs ? (
              <text x={center + 2} y={sy - 12.5} fontSize={19} textAnchor="middle">ns</text>
            ) : (
              <text x={center + 2} y={sy + 4.5} fontSize={starFs} fontWeight="bold" textAnchor="middle" letterSpacing={1}>{sigText[gi]}</text>
            )}
            <text transform={`translate(${center + 9},${y(0) + 44}) rotate(-45)`} fontSize={27} fontWeight="bold" textAnchor="end">{s}</text>
          </g>
        );
      })}
      <line x1={axisX} x2={axisX} y1={y(0)} y2={y(max)} stroke="#000" strokeWidth={2} />
      <line x1={axisX - 9} x2={1169} y1={y(0)} y2={y(0)} stroke="#000" strokeWidth={2.2} />
      {ticks.map((t: number) => (
        <g key={t}>
          <line x1={axisX - 9} x2={axisX} y1={y(t)} y2={y(t)} stroke="#000" strokeWidth={2} />
          <text x={axisX - 13} y={y(t) + 7.5} fontSize={21} fontWeight="bold" textAnchor="end">{t}</text>
        </g>
      ))}
    </g>
  );
}

// ---------- pies
function Pie({ cx, cy, r, vals }: any) {
  const pie = d3.pie<number>().sort(null).value((d) => d);
  const arc = d3.arc<d3.PieArcDatum<number>>().innerRadius(0).outerRadius(r);
  return (
    <g transform={`translate(${cx},${cy})`}>
      {pie(vals).map((a, i) => (
        <path key={i} d={arc(a) as string} fill={subsetColors[i]} />
      ))}
      <circle r={r} fill="none" stroke="#000" strokeWidth={1.6} />
    </g>
  );
}

// ---------- histogram (H)
function PanelH() {
  const hx = d3.scaleSymlog().constant(470).domain([-2843, 209100]).range([122.7, 517.3]);
  const panels = [
    { name: "CD4 gate", tac: cd4Tac, sham: cd4Sham, max: 150, top: 1118, bottom: 1255.9, y0: 1253.7, y1: 1119.9, major: [0, 50, 100, 150], lx: 133.7, ly: 1151.1 },
    { name: "CD8 gate", tac: cd8Tac, sham: cd8Sham, max: 120, top: 1255.9, bottom: 1394.2, y0: 1392, y1: 1266.6, major: [0, 30, 60, 90, 120], lx: 133.7, ly: 1290.3 },
    { name: "NK gate", tac: nkTac, sham: nkSham, max: 120, top: 1394.2, bottom: 1531.8, y0: 1529.6, y1: 1404.5, major: [0, 30, 60, 90, 120], lx: 130.3, ly: 1428.6 },
  ];
  const xMajor = [[-1000, "-10", "3"], [0, "0", ""], [1000, "10", "3"], [10000, "10", "4"], [100000, "10", "5"]];
  return (
    <g>
      <text x={5.7} y={1111} fontSize={19} fontWeight="bold">H</text>
      <text x={86.6} y={1108} fontSize={24} fontWeight="bold">
        IFN-γ<Sup s="+" fs={14} rise={9} after=" gate:" />
      </text>
      <path d="M122.7,1118H517.3V1531.8" fill="none" stroke="#777" strokeWidth={0.9} />
      {panels.map((p) => {
        const y = d3.scaleLinear().domain([0, p.max]).range([p.y0, p.y1]);
        const area = d3.area<Pt>().x((d) => hx(d[0])).y0(y(0)).y1((d) => y(d[1])).curve(d3.curveMonotoneX);
        const line = d3.line<Pt>().x((d) => hx(d[0])).y((d) => y(d[1])).curve(d3.curveMonotoneX);
        return (
          <g key={p.name}>
            <path d={area(p.tac) as string} fill="#c8c8f3" />
            <path d={line(p.tac) as string} fill="none" stroke="#1515d0" strokeWidth={2} />
            <path d={area(p.sham) as string} fill="#f21a1a" stroke="#e00000" strokeWidth={1} />
            <line x1={122.7} x2={517.3} y1={p.bottom} y2={p.bottom} stroke="#222" strokeWidth={1.2} />
            <line x1={122.7} x2={122.7} y1={p.top} y2={p.bottom} stroke="#222" strokeWidth={1.2} />
            {d3.range(0, p.max + 1, 10).map((v) => (
              <line key={v} x1={117} x2={122.7} y1={y(v)} y2={y(v)} stroke="#222" strokeWidth={0.7} />
            ))}
            {p.major.map((v) => (
              <g key={v}>
                <line x1={110} x2={122.7} y1={y(v)} y2={y(v)} stroke="#222" strokeWidth={1.2} />
                <text x={104} y={y(v) + 2.2} fontSize={6.5} textAnchor="end" fill="#222" letterSpacing={0.6}>{v}</text>
              </g>
            ))}
            <text x={p.lx} y={p.ly} fontSize={24} fontWeight="bold">{p.name}</text>
          </g>
        );
      })}
      {logTicks(-2843, 209100).map((v, i) => (
        <line key={i} x1={hx(v)} x2={hx(v)} y1={1531.8} y2={1535.3} stroke="#222" strokeWidth={0.7} />
      ))}
      {xMajor.map(([v, b, e]: any) => (
        <g key={v}>
          <line x1={hx(v)} x2={hx(v)} y1={1531.8} y2={1537.5} stroke="#222" strokeWidth={1.5} />
          <Pow x={hx(v) + (e ? 3 : 0)} y={1545} base={b} exp={e} fs={7} />
        </g>
      ))}
      <text x={324.7} y={1564} fontSize={18} fontWeight="bold" textAnchor="middle">IFN-γ_BB515</text>
      {/* legend */}
      <rect x={382.5} y={1126} width={52} height={17} fill="#ff3030" stroke={RED} strokeWidth={2} />
      <text x={444.4} y={1142.4} fontSize={22} fontWeight="bold">Sham</text>
      <rect x={383} y={1157.5} width={51.5} height={16.5} fill="#c8c8f3" stroke="#0000cc" strokeWidth={3} />
      <text x={444.4} y={1173} fontSize={22} fontWeight="bold">TAC</text>
    </g>
  );
}

export default function App() {
  const shamMeans = gSham.map((g) => d3.mean(g) as number);
  const tacMeans = gTac.map((g) => d3.mean(g) as number);
  return (
    <svg width={1531} height={2053} viewBox="0 0 1169 1568" fontFamily={FONT}
      style={{ position: "absolute", left: 0, top: 0, display: "block", background: "#fff" }}>
      <rect width={1169} height={1568} fill="#fff" />

      {/* ===== A ===== */}
      <text x={4} y={22} fontSize={19} fontWeight="bold">A</text>
      <text x={44} y={20.5} fontSize={23} fontWeight="bold">
        Live CD45<Sup s="+" fs={14} rise={8} after=" gate:" />
      </text>
      <text x={189} y={47} fontSize={23.5} fontWeight="bold" textAnchor="middle">Sham</text>
      <text x={487} y={47} fontSize={23.5} fontWeight="bold" textAnchor="middle">TAC</text>
      <FlowA x0={63.5} outer={aShamOuter} peak={aShamPeak} levels={15} dots={aShamDots} />
      <FlowA x0={358} outer={aTacMain} peak={aTacPeak} levels={16} envelope={aTacOuter} lobe={aTacLobe} lobePeak={aTacLobePeak} dots={aTacDots} />
      <text transform="translate(34,262) rotate(-90)" textAnchor="middle" fontSize={20} fontWeight="bold">FSC-A</text>
      <path d="M18.7,303.6V343H60" fill="none" stroke="#000" strokeWidth={2.5} />
      <text x={74} y={351} fontSize={18} fontWeight="bold">BB515: IFN-γ</text>

      {/* ===== B ===== */}
      <text x={633} y={21} fontSize={19} fontWeight="bold">B</text>
      <PairChart sham={bSham} tac={bTac} band={[766.8, 863.3]} axisX={745.6} xEnd={883.8} y0={292.7} y1={86.5} max={15}
        ticks={[0, 5, 10, 15]} sigAt={13.74} stars="***" />
      <text transform="translate(664,186) rotate(-90)" textAnchor="middle" fontSize={28} fontWeight="bold">
        IFN-γ<Sup s="+" fs={18} rise={11} after="  cells" />
      </text>
      <text transform="translate(699,187) rotate(-90)" textAnchor="middle" fontSize={28} fontWeight="bold">(% of CD45)</text>
      <path d={circleBig} transform="translate(928.5,145)" fill="#000" />
      <text x={957.7} y={155.3} fontSize={27} fontWeight="bold">Sham</text>
      <path d={triBig} transform="translate(928.5,190.4)" fill={RED} />
      <text x={957.7} y={199.8} fontSize={27} fontWeight="bold">TAC</text>

      {/* ===== C ===== */}
      <text x={4} y={418} fontSize={19} fontWeight="bold">C</text>
      <text x={44} y={417} fontSize={23} fontWeight="bold">
        IFN-γ<Sup s="+" fs={14} rise={8} after=" gate:" />
      </text>
      <text x={189.7} y={444} fontSize={23.5} fontWeight="bold" textAnchor="middle">Sham</text>
      <text x={491} y={444} fontSize={23.5} fontWeight="bold" textAnchor="middle">TAC</text>
      <FlowC x0={62.3} main={cShamMain} mainPeak={cShamMainPeak} mainLevels={17} nk={cShamNk} nkPeak={cShamNkPeak} nkLevels={6} dots={cShamDots} />
      <FlowC x0={357.6} main={cTacMain} mainPeak={cTacMainPeak} mainLevels={15} nk={cTacNk} nkPeak={cTacNkPeak} nkLevels={13} envelope={cTacEnvelope} dots={cTacDots} />
      <text transform="translate(26,626) rotate(-90)" textAnchor="middle" fontSize={18} fontWeight="bold">BUV737: CD3</text>
      <path d="M18.7,703.7V743H58.4" fill="none" stroke="#000" strokeWidth={2.5} />
      <text x={74} y={752} fontSize={18} fontWeight="bold">APC: NK1.1</text>

      {/* ===== D / E ===== */}
      <text x={633} y={413} fontSize={19} fontWeight="bold">D</text>
      <PairChart sham={dSham} tac={dTac} band={[767.5, 864.4]} axisX={746.7} xEnd={884.5} y0={687.8} y1={483.1} max={100}
        ticks={[0, 20, 40, 60, 80, 100]} sigAt={80.9} stars="****" />
      <text transform="translate(651.4,581) rotate(-90)" textAnchor="middle" fontSize={28} fontWeight="bold">
        NK1.1<Sup s="+" fs={18} rise={11} after="  cells" />
      </text>
      <text transform="translate(688,581.6) rotate(-90)" textAnchor="middle" fontSize={28} fontWeight="bold">(% of IFN-γ)</text>
      <text x={900} y={413} fontSize={19} fontWeight="bold">E</text>
      <PairChart sham={eSham} tac={eTac} band={[1052.1, 1148.6]} axisX={1030.9} xEnd={1163} y0={689.3} y1={483.6} max={100}
        ticks={[0, 20, 40, 60, 80, 100]} sigAt={97.5} stars="**" />
      <text transform="translate(936.7,583) rotate(-90)" textAnchor="middle" fontSize={28} fontWeight="bold">
        CD3<Sup s="+" fs={18} rise={11} after=" T cells" />
      </text>
      <text transform="translate(971.5,581) rotate(-90)" textAnchor="middle" fontSize={28} fontWeight="bold">(% of IFN-γ)</text>

      {/* ===== F ===== */}
      <text x={5} y={797} fontSize={19} fontWeight="bold">F</text>
      <text x={139.8} y={832.3} fontSize={24} fontWeight="bold" textAnchor="middle">Sham</text>
      <text x={340} y={832.3} fontSize={24} fontWeight="bold" textAnchor="middle">TAC</text>
      <Pie cx={139.8} cy={945} r={71} vals={shamMeans} />
      <Pie cx={333.5} cy={937} r={87} vals={tacMeans} />
      {subsets.map((s, i) => (
        <g key={s}>
          <rect x={441.3} y={855.2 + i * 23.4} width={17.5} height={19} fill={subsetColors[i]} stroke="#000" strokeWidth={1.3} />
          <text x={470.2} y={871.7 + i * 23.4} fontSize={21} fontWeight="bold">{s}</text>
        </g>
      ))}

      {/* ===== G ===== */}
      <text x={635} y={798} fontSize={19} fontWeight="bold">G</text>
      <GroupChart sham={gSham} tac={gTac} axisX={751} y0={1036.4} y1={798.7} max={80} ticks={[0, 20, 40, 60, 80]}
        sigAt={gSigAt} sigText={gSigText} starFs={33} />
      <text transform="translate(652.8,916.5) rotate(-90)" textAnchor="middle" fontSize={32} fontWeight="bold">Cell subsets</text>
      <text transform="translate(700.4,915) rotate(-90)" textAnchor="middle" fontSize={32} fontWeight="bold">
        (% of IFN-γ<Sup s="+" fs={20} rise={12} after=" cells)" />
      </text>

      {/* ===== H ===== */}
      <PanelH />

      {/* ===== I ===== */}
      <text x={642} y={1199} fontSize={19} fontWeight="bold">I</text>
      <GroupChart sham={iSham} tac={iTac} axisX={752.1} y0={1459.7} y1={1223} max={10000}
        ticks={[0, 2000, 4000, 6000, 8000, 10000]} sigAt={iSigAt} sigText={iSigText} starFs={31} />
      <text transform="translate(660.5,1337.5) rotate(-90)" textAnchor="middle" fontSize={33} fontWeight="bold">GEOM of IFN-γ</text>
    </svg>
  );
}
